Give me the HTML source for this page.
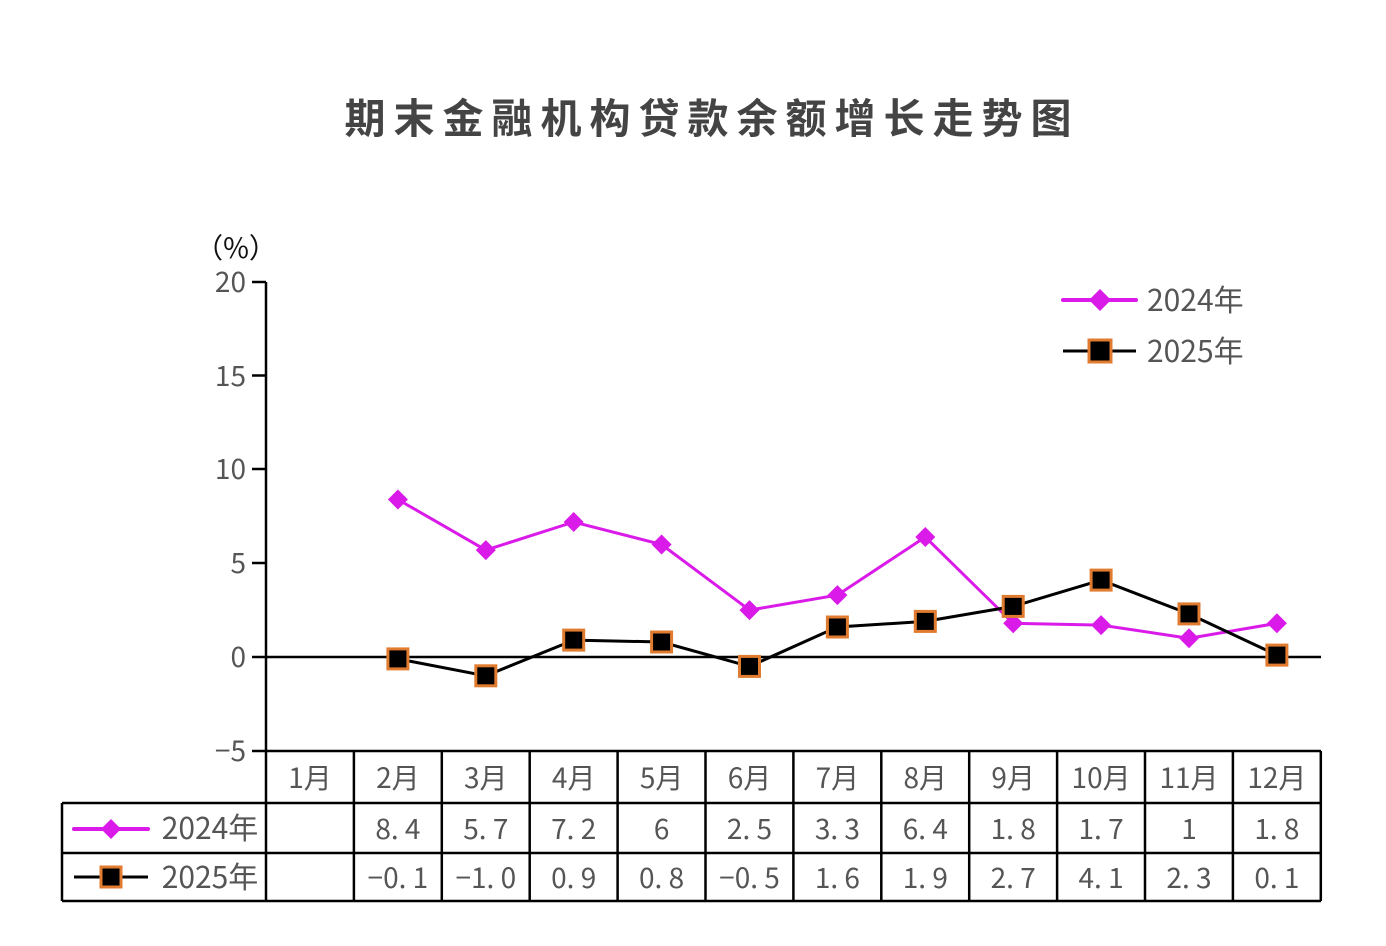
<!DOCTYPE html>
<html><head><meta charset="utf-8"><style>
html,body{margin:0;padding:0;background:#fff;}
svg{display:block;font-family:"Noto Sans CJK SC","Liberation Sans",sans-serif;}
</style></head><body>
<svg width="1386" height="946" viewBox="0 0 1386 946" xmlns="http://www.w3.org/2000/svg">
<text x="712" y="133" text-anchor="middle" font-size="41" font-weight="bold" fill="#444" letter-spacing="8" font-family="'Noto Sans CJK SC',sans-serif">期末金融机构贷款余额增长走势图</text>
<text x="236" y="258" text-anchor="middle" font-size="28" fill="#111" font-family="'Noto Sans CJK SC',sans-serif">（%）</text>
<g font-size="28" fill="#555" text-anchor="end">
<text x="246" y="292">20</text>
<text x="246" y="386">15</text>
<text x="246" y="479">10</text>
<text x="246" y="573">5</text>
<text x="246" y="667">0</text>
<text x="246" y="761">−5</text>
</g>
<g stroke="#000" stroke-width="2.5" fill="none">
<line x1="266" y1="282" x2="266" y2="901"/>
<line x1="252" y1="282" x2="266" y2="282"/>
<line x1="252" y1="375.5" x2="266" y2="375.5"/>
<line x1="252" y1="469" x2="266" y2="469"/>
<line x1="252" y1="563" x2="266" y2="563"/>
<line x1="252" y1="657" x2="1321" y2="657"/>
<line x1="252" y1="751" x2="1321" y2="751"/>
<line x1="62" y1="803" x2="1321" y2="803"/>
<line x1="62" y1="853" x2="1321" y2="853"/>
<line x1="62" y1="901" x2="1321" y2="901"/>
<line x1="62" y1="803" x2="62" y2="901"/>
<line x1="353.9" y1="751" x2="353.9" y2="901"/>
<line x1="441.8" y1="751" x2="441.8" y2="901"/>
<line x1="529.7" y1="751" x2="529.7" y2="901"/>
<line x1="617.6" y1="751" x2="617.6" y2="901"/>
<line x1="705.5" y1="751" x2="705.5" y2="901"/>
<line x1="793.4" y1="751" x2="793.4" y2="901"/>
<line x1="881.3" y1="751" x2="881.3" y2="901"/>
<line x1="969.2" y1="751" x2="969.2" y2="901"/>
<line x1="1057.1" y1="751" x2="1057.1" y2="901"/>
<line x1="1145" y1="751" x2="1145" y2="901"/>
<line x1="1232.9" y1="751" x2="1232.9" y2="901"/>
<line x1="1320.8" y1="751" x2="1320.8" y2="901"/>
</g>
<g font-size="28" fill="#555" text-anchor="middle">
<text x="310" y="788">1月</text><text x="397.9" y="788">2月</text><text x="485.8" y="788">3月</text><text x="573.7" y="788">4月</text><text x="661.6" y="788">5月</text><text x="749.5" y="788">6月</text><text x="837.4" y="788">7月</text><text x="925.3" y="788">8月</text><text x="1013.2" y="788">9月</text><text x="1101.1" y="788">10月</text><text x="1189" y="788">11月</text><text x="1276.9" y="788">12月</text>
<text x="397.9" y="839">8. 4</text><text x="485.8" y="839">5. 7</text><text x="573.7" y="839">7. 2</text><text x="661.6" y="839">6</text><text x="749.5" y="839">2. 5</text><text x="837.4" y="839">3. 3</text><text x="925.3" y="839">6. 4</text><text x="1013.2" y="839">1. 8</text><text x="1101.1" y="839">1. 7</text><text x="1189" y="839">1</text><text x="1276.9" y="839">1. 8</text>
<text x="397.9" y="888">−0. 1</text><text x="485.8" y="888">−1. 0</text><text x="573.7" y="888">0. 9</text><text x="661.6" y="888">0. 8</text><text x="749.5" y="888">−0. 5</text><text x="837.4" y="888">1. 6</text><text x="925.3" y="888">1. 9</text><text x="1013.2" y="888">2. 7</text><text x="1101.1" y="888">4. 1</text><text x="1189" y="888">2. 3</text><text x="1276.9" y="888">0. 1</text>
<text x="210" y="839" font-size="30">2024年</text><text x="210" y="888" font-size="30">2025年</text>
</g>
<line x1="74" y1="829" x2="148" y2="829" stroke="#D91AE8" stroke-width="4" stroke-linecap="round"/>
<path d="M111 819 L121 829 L111 839 L101 829Z" fill="#D91AE8"/>
<line x1="74" y1="877" x2="148" y2="877" stroke="#000" stroke-width="3"/>
<rect x="101" y="867" width="20" height="20" fill="#000" stroke="#E07B30" stroke-width="3"/>
<polyline fill="none" stroke="#D91AE8" stroke-width="3" points="397.9,499.5 485.8,550.1 573.7,522 661.6,544.5 749.5,610.1 837.4,595.1 925.3,537 1013.2,623.3 1101.1,625.1 1189,638.3 1276.9,623.3"/>
<g fill="#D91AE8">
<path d="M397.9 489.5l10 10-10 10-10-10z"/><path d="M485.8 540.1l10 10-10 10-10-10z"/><path d="M573.7 512l10 10-10 10-10-10z"/><path d="M661.6 534.5l10 10-10 10-10-10z"/><path d="M749.5 600.1l10 10-10 10-10-10z"/><path d="M837.4 585.1l10 10-10 10-10-10z"/><path d="M925.3 527l10 10-10 10-10-10z"/><path d="M1013.2 613.3l10 10-10 10-10-10z"/><path d="M1101.1 615.1l10 10-10 10-10-10z"/><path d="M1189 628.3l10 10-10 10-10-10z"/><path d="M1276.9 613.3l10 10-10 10-10-10z"/>
</g>
<polyline fill="none" stroke="#000" stroke-width="3" points="397.9,658.9 485.8,675.8 573.7,640.1 661.6,642 749.5,666.4 837.4,627 925.3,621.4 1013.2,606.4 1101.1,580.1 1189,613.9 1276.9,655.1"/>
<g fill="#000" stroke="#E07B30" stroke-width="3">
<rect x="387.9" y="648.9" width="20" height="20"/><rect x="475.8" y="665.8" width="20" height="20"/><rect x="563.7" y="630.1" width="20" height="20"/><rect x="651.6" y="632" width="20" height="20"/><rect x="739.5" y="656.4" width="20" height="20"/><rect x="827.4" y="617" width="20" height="20"/><rect x="915.3" y="611.4" width="20" height="20"/><rect x="1003.2" y="596.4" width="20" height="20"/><rect x="1091.1" y="570.1" width="20" height="20"/><rect x="1179" y="603.9" width="20" height="20"/><rect x="1266.9" y="645.1" width="20" height="20"/>
</g>
<line x1="1063" y1="300" x2="1136" y2="300" stroke="#D91AE8" stroke-width="4" stroke-linecap="round"/>
<path d="M1100 289 L1111 300 L1100 311 L1089 300Z" fill="#D91AE8"/>
<text x="1147" y="311" font-size="30" fill="#555">2024年</text>
<line x1="1063" y1="351" x2="1136" y2="351" stroke="#000" stroke-width="3"/>
<rect x="1089" y="340" width="22" height="22" fill="#000" stroke="#E07B30" stroke-width="3"/>
<text x="1147" y="362" font-size="30" fill="#555">2025年</text>
</svg>
</body></html>
